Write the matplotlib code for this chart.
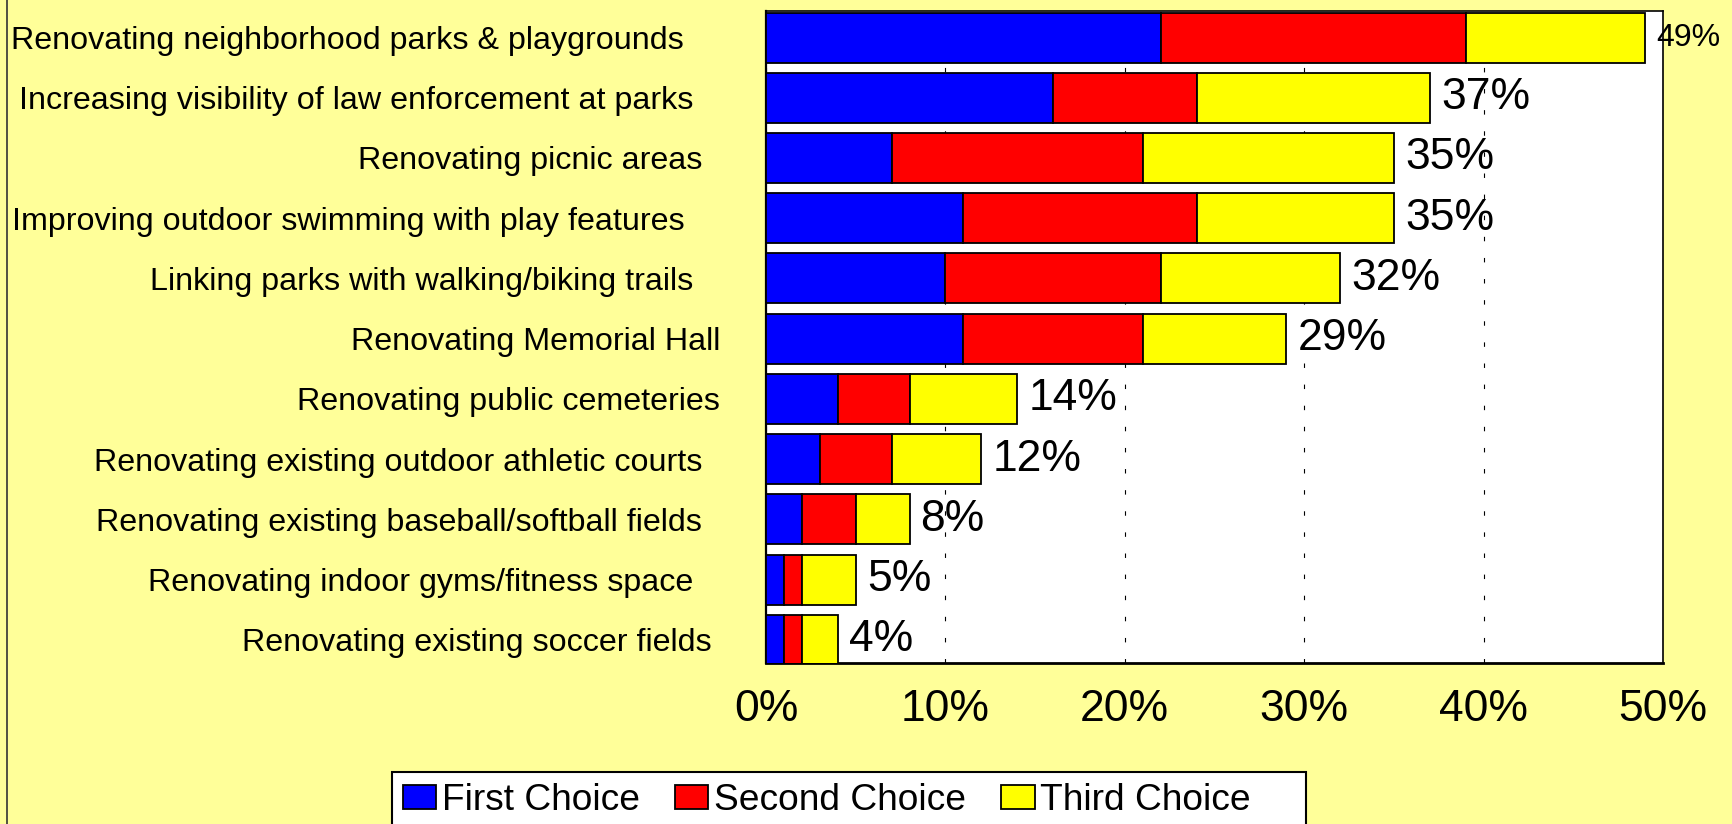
import matplotlib
matplotlib.use('Agg')
from matplotlib import pyplot as plt
from matplotlib.patches import Rectangle
from matplotlib.lines import Line2D
import numpy as np

plt.rcParams['font.family'] = ['Liberation Sans', 'DejaVu Sans']

# categories, top to bottom (trailing spaces as in the original labels)
categories = [
    'Renovating neighborhood parks & playgrounds    ',
    'Increasing visibility of law enforcement at parks   ',
    'Renovating picnic areas  ',
    'Improving outdoor swimming with play features    ',
    'Linking parks with walking/biking trails   ',
    'Renovating Memorial Hall',
    'Renovating public cemeteries',
    'Renovating existing outdoor athletic courts  ',
    'Renovating existing baseball/softball fields  ',
    'Renovating indoor gyms/fitness space   ',
    'Renovating existing soccer fields ',
]
first = [22, 16, 7, 11, 10, 11, 4, 3, 2, 1, 1]
second = [17, 8, 14, 13, 12, 10, 4, 4, 3, 1, 1]
third = [10, 13, 14, 11, 10, 8, 6, 5, 3, 3, 2]
totals = [49, 37, 35, 35, 32, 29, 14, 12, 8, 5, 4]
series_names = ['First Choice', 'Second Choice', 'Third Choice']
colors = ['#0000FF', '#FF0000', '#FFFF00']

bg = '#FFFF99'
fig = plt.figure(figsize=(17.33, 8.24), dpi=100, facecolor=bg)
ax = fig.add_axes([0.442, 0.1954, 0.5176, 0.7912])
ax.set_facecolor('white')

y = np.arange(len(categories))
left = np.zeros(len(categories))
handles = []
for vals, name, c in zip([first, second, third], series_names, colors):
    ax.barh(y, vals, left=left, height=0.83, color=c, edgecolor='black',
            linewidth=1.3, zorder=3)
    left = left + np.array(vals)
    handles.append(Rectangle((0, 0), 1, 1, facecolor=c, edgecolor='black', linewidth=1.3))

# value labels (the top one is smaller in the original)
for i, t in enumerate(totals):
    fs = 23 if i == 0 else 32
    ax.annotate(f'{t}%', xy=(left[i], y[i]), xytext=(8, 0), textcoords='offset points',
                ha='left', va='center', fontsize=fs, zorder=4)

ax.set_xlim(0, 50)
ax.set_ylim(len(categories) - 1 + 0.385, -0.44)
ax.set_xticks([0, 10, 20, 30, 40, 50])
ax.set_xticklabels([f'{v}%' for v in [0, 10, 20, 30, 40, 50]], fontsize=32)
ax.set_yticks(y)
ax.set_yticklabels(categories, fontsize=23.2)
ax.tick_params(axis='x', length=0, pad=19)
ax.tick_params(axis='y', length=0, pad=33)

ax.grid(axis='x', color='black', linestyle=(0, (4, 15)), linewidth=0.8, zorder=1)
ax.set_axisbelow(True)
for s in ax.spines.values():
    s.set_color('black')
    s.set_linewidth(1.2)
ax.spines['bottom'].set_linewidth(2)
ax.spines['left'].set_linewidth(1.6)

# figure border at left
fig.add_artist(Line2D([0.004, 0.004], [0, 1], color='#333333', linewidth=1.2,
                      transform=fig.transFigure))

# legend box (runs off the bottom of the figure)
fig.add_artist(Rectangle((0.226, -0.05), 0.5275, 0.113, facecolor='white',
                         edgecolor='black', linewidth=1.5, transform=fig.transFigure))
fig.legend(handles, series_names, loc='center left', bbox_to_anchor=(0.2325, 0.028),
           ncol=3, frameon=False, fontsize=26.7, handlelength=0.9, handleheight=0.62,
           handletextpad=0.15, columnspacing=0.95, borderpad=0, borderaxespad=0)

plt.savefig('out.png', dpi=100, facecolor=bg)
